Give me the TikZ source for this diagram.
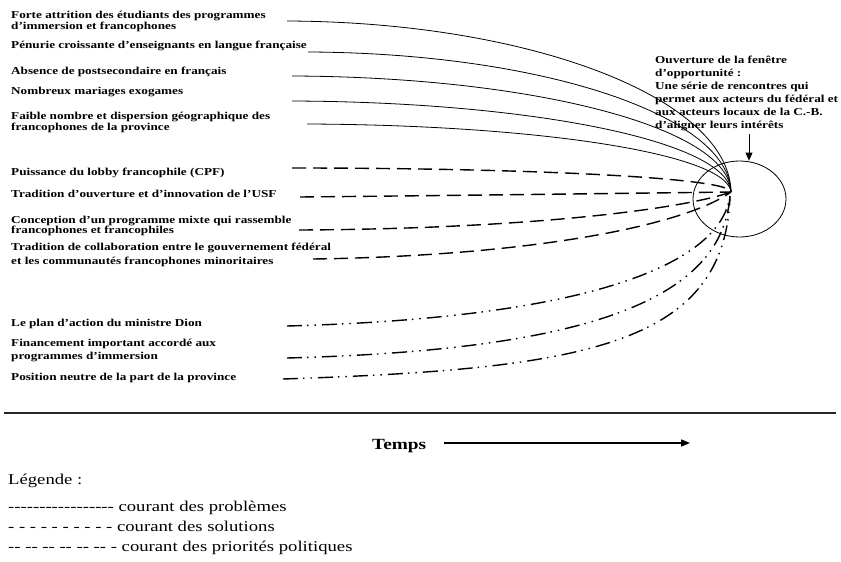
\documentclass[tikz,border=0pt]{standalone}
\usepackage{fontspec}
\setmainfont{Liberation Serif}[FakeStretch=1.245]
\usetikzlibrary{shapes.geometric,arrows.meta}
\newcommand\hh{-\kern0pt}
\begin{document}
\begin{tikzpicture}[x=1pt,y=-1pt,
  lbl/.style={anchor=base west, inner sep=0pt, align=left, font=\fontsize{10.6}{11}\selectfont\bfseries},
  prob/.style={line width=0.8pt},
  sol/.style={line width=1.4pt, dash pattern=on 14pt off 7pt},
  pol/.style={line width=1.4pt, dash pattern=on 15pt off 5pt on 1.5pt off 6pt on 1.5pt off 6pt},
  leg/.style={anchor=base west, inner sep=0pt, font=\fontsize{15}{18}\selectfont}]
\useasboundingbox (0,0) rectangle (841,562);

% labels (multi-line nodes: position = baseline of the last line)
\node[lbl, font=\fontsize{10.6}{10.7}\selectfont\bfseries] (l1) at (11,29.2) {Forte attrition des étudiants des programmes\\d’immersion et francophones};
\node[lbl] (l2) at (11,48) {Pénurie croissante d’enseignants en langue française};
\node[lbl] (l3) at (11,74) {Absence de postsecondaire en français};
\node[lbl] (l4) at (11,94) {Nombreux mariages exogames};
\node[lbl] (l5) at (11,130) {Faible nombre et dispersion géographique des\\francophones de la province};
\node[lbl] (l6) at (11,175) {Puissance du lobby francophile (CPF)};
\node[lbl] (l7) at (11,197) {Tradition d’ouverture et d’innovation de l’USF};
\node[lbl, font=\fontsize{10.6}{10.5}\selectfont\bfseries] (l8) at (11,233.5) {Conception d’un programme mixte qui rassemble\\francophones et francophiles};
\node[lbl, font=\fontsize{10.6}{14}\selectfont\bfseries] (l9) at (11,264) {Tradition de collaboration entre le gouvernement fédéral\\et les communautés francophones minoritaires};
\node[lbl] (l10) at (11,326) {Le plan d’action du ministre Dion};
\node[lbl, font=\fontsize{10.6}{12.5}\selectfont\bfseries] (l11) at (11,359) {Financement important accordé aux\\programmes d’immersion};
\node[lbl] (l12) at (11,380) {Position neutre de la part de la province};

% window
\node[ellipse, draw, line width=0.8pt, minimum width=93pt, minimum height=76pt, inner sep=0pt] (win) at (739.5,199) {};
\node[lbl, font=\fontsize{10.6}{13}\selectfont\bfseries] (wl) at (655,128) {Ouverture de la fenêtre\\d’opportunité :\\Une série de rencontres qui\\permet aux acteurs du fédéral et\\aux acteurs locaux de la C.-B.\\d’aligner leurs intérêts};
\coordinate (ar) at (749,134);
\draw[line width=0.8pt, -{Triangle[length=8pt,width=7pt]}] (ar) -- (ar |- win.north);

\coordinate (conv) at (731,192);
% problem stream
\coordinate (s1) at (287,21);
\coordinate (s2) at (308,52);
\coordinate (s3) at (292,76);
\coordinate (s4) at (292,101);
\coordinate (s5) at (307,124);
\draw[prob] (s1) .. controls (530,22) and (729,98) .. (conv);
\draw[prob] (s2) .. controls (540,53) and (729,115) .. (conv);
\draw[prob] (s3) .. controls (535,77) and (729,128) .. (conv);
\draw[prob] (s4) .. controls (535,102) and (728,142) .. (conv);
\draw[prob] (s5) .. controls (540,125) and (727,154) .. (conv);

% solutions stream
\coordinate (d1) at (292,168);
\coordinate (d2) at (300,197);
\coordinate (d3) at (299,230);
\coordinate (d4) at (313,259);
\draw[sol] (d1) .. controls (534,168) and (731,178) .. (conv);
\draw[sol] (d2) .. controls (500,195) and (650,193) .. (conv);
\draw[sol] (d3) .. controls (520,229) and (680,210) .. (conv);
\draw[sol] (d4) .. controls (520,256) and (680,228) .. (conv);

% political stream
\coordinate (p1) at (287,326);
\coordinate (p2) at (287,358);
\coordinate (p3) at (283,379);
\coordinate (conv2) at (730,196);
\draw[pol] (p1) .. controls (587,318) and (720,265) .. (conv2);
\draw[pol] (p2) .. controls (587,350) and (722,300) .. (conv2);
\draw[pol] (p3) .. controls (583,369) and (725,346) .. (conv2);

% rule
\coordinate (r1) at (4,413);
\coordinate (r2) at (836,413);
\draw[line width=1.2pt, black!85] (r1) -- (r2);

% time
\node[anchor=base west, inner sep=0pt, font=\fontsize{15.5}{18}\selectfont\bfseries] (temps) at (372,449) {Temps};
\coordinate (t1) at (444,443);
\coordinate (t2) at (690,443);
\draw[line width=1.5pt, -{Triangle[length=9pt,width=7pt]}] (t1) -- (t2);

% legend
\node[leg] (lg0) at (8,484) {Légende :};
\node[leg] (lg1) at (8,511) {\hh\hh\hh\hh\hh\hh\hh\hh\hh\hh\hh\hh\hh\hh\hh\hh\hh{} courant des problèmes};
\node[leg] (lg2) at (8,531) {- - - - - - - - - - courant des solutions};
\node[leg] (lg3) at (8,551) {\hh\hh{} \hh\hh{} \hh\hh{} \hh\hh{} \hh\hh{} \hh\hh{} \hh{} courant des priorités politiques};
\end{tikzpicture}
\end{document}
